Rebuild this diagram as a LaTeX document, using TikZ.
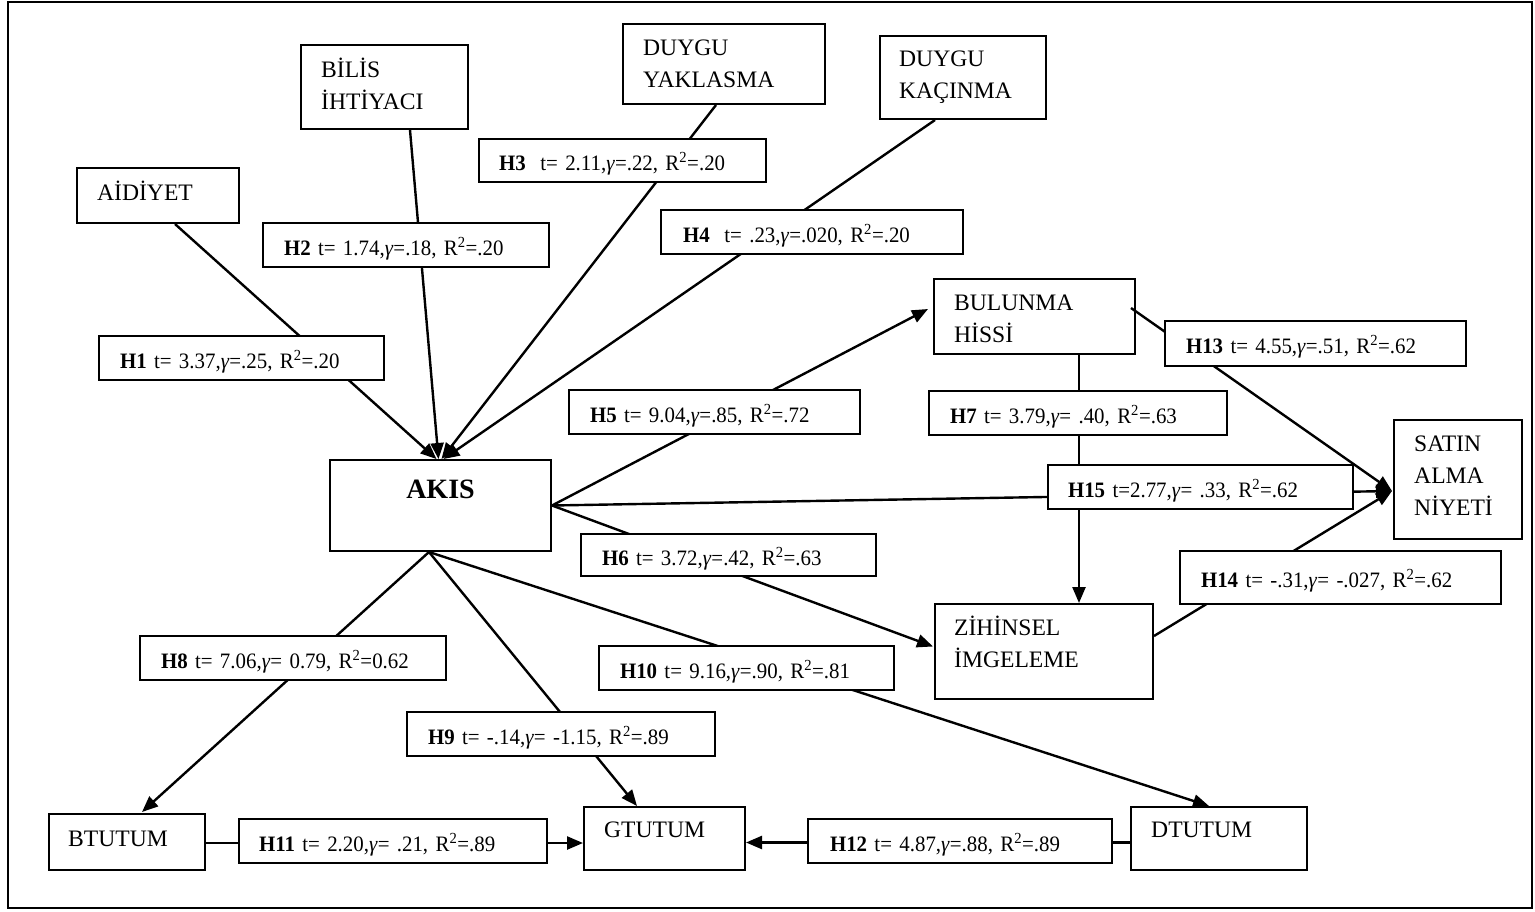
\documentclass[tikz,border=0pt]{standalone}
\usepackage{fontspec}
\setmainfont{Liberation Serif}
\newfontfamily\coeffont{Liberation Serif}[FakeStretch=0.95]
\usetikzlibrary{arrows.meta,calc}
\newcommand{\gam}{\textit{γ}}
\newcommand{\rsq}{R\textsuperscript{2}}
\begin{document}
\begin{tikzpicture}[x=1pt,y=-1pt,
  varbox/.style={draw,line width=2pt,rectangle,inner sep=0pt,anchor=north west},
  vartext/.style={anchor=base west,inner sep=0pt,align=left,font=\fontsize{23.6}{31.7}\selectfont},
  coef/.style={draw,fill=white,line width=2pt,anchor=north west,inner xsep=21pt,inner ysep=0pt,
    align=left,text height=25pt,text depth=5pt,font=\coeffont\fontsize{22}{24}\selectfont},
  link/.style={line width=2.4pt},
  arr/.style={link,-{Triangle[length=16pt,width=13pt]}}]
\useasboundingbox (0,0) rectangle (1535,911);
\draw[line width=1.8pt] (8,2) rectangle (1532,908);

% construct boxes
\node[varbox,minimum width=162pt,minimum height=55pt] (aid) at (76,167) {};
\node[varbox,minimum width=167pt,minimum height=84pt] (bil) at (300,44) {};
\node[varbox,minimum width=202pt,minimum height=80pt] (dya) at (622,23) {};
\node[varbox,minimum width=166pt,minimum height=83pt] (dka) at (879,35) {};
\node[varbox,minimum width=221pt,minimum height=91pt] (akis) at (329,459) {};
\node[varbox,minimum width=201pt,minimum height=75pt] (bul) at (933,278) {};
\node[varbox,minimum width=128pt,minimum height=119pt] (sat) at (1393,419) {};
\node[varbox,minimum width=218pt,minimum height=95pt] (zih) at (934,603) {};
\node[varbox,minimum width=156pt,minimum height=56pt] (bt) at (48,813) {};
\node[varbox,minimum width=161pt,minimum height=63pt] (gt) at (583,806) {};
\node[varbox,minimum width=176pt,minimum height=63pt] (dt) at (1130,806) {};

% construct names (base anchor sits on the last line)
\node[vartext] (aid-t) at ($(aid.north west)+(21,33)$) {AİDİYET};
\node[vartext] (bil-t) at ($(bil.north west)+(21,65)$) {BİLİS\\İHTİYACI};
\node[vartext] (dya-t) at ($(dya.north west)+(21,64)$) {DUYGU\\YAKLASMA};
\node[vartext] (dka-t) at ($(dka.north west)+(20,63)$) {DUYGU\\KAÇINMA};
\node[anchor=base,inner sep=0pt,font=\fontsize{28}{32}\selectfont\bfseries] (akis-t) at ($(akis.north)+(0,39)$) {AKIS};
\node[vartext] (bul-t) at ($(bul.north west)+(21,64)$) {BULUNMA\\HİSSİ};
\node[vartext] (sat-t) at ($(sat.north west)+(21,96)$) {SATIN\\ALMA\\NİYETİ};
\node[vartext] (zih-t) at ($(zih.north west)+(20,64)$) {ZİHİNSEL\\İMGELEME};
\node[vartext] (bt-t) at ($(bt.north west)+(20,33)$) {BTUTUM};
\node[vartext] (gt-t) at ($(gt.north west)+(21,31)$) {GTUTUM};
\node[vartext] (dt-t) at ($(dt.north west)+(21,31)$) {DTUTUM};

% paths into AKIS
\draw[arr] ([shift={(17,0)}]aid.south) -- ([shift={(-4,0)}]akis.north);
\draw[arr] ([shift={(25.5,0)}]bil.south) -- ([shift={(-2,0)}]akis.north);
\draw[arr] ([shift={(-8,0)}]dya.south) -- ([shift={(1,0)}]akis.north);
\draw[arr] ([shift={(-28,0)}]dka.south) -- ([shift={(3,0)}]akis.north);

% paths out of AKIS
\draw[arr] (akis.east) -- ([shift={(-5,-7.5)}]bul.west);
\draw[arr] (akis.east) -- ([shift={(-1,-5)}]zih.west);
\draw[arr] (akis.east) -- ([shift={(-1,11.5)}]sat.west);
\coordinate (akb) at ([shift={(-11.5,0)}]akis.south);
\draw[arr] (akb) -- ([shift={(15,-1)}]bt.north);
\draw[arr] (akb) -- ([shift={(-27.5,0)}]gt.north);
\draw[arr] (akb) -- ([shift={(-10,0)}]dt.north);

% remaining paths
\coordinate (h7s) at ([shift={(44.5,0)}]bul.south);
\draw[arr] (h7s) -- (h7s |- zih.north);
\draw[arr] ([shift={(-5,-8.5)}]bul.east) -- ([shift={(-1,11.5)}]sat.west);
\draw[arr] ([shift={(0,-15.5)}]zih.east) -- ([shift={(-1,11.5)}]sat.west);
\coordinate (h11s) at ([shift={(0,1)}]bt.east);
\draw[arr] (h11s) -- (h11s -| gt.west);
\coordinate (h12s) at ([shift={(0,4)}]dt.west);
\draw[arr] (h12s) -- (h12s -| gt.east);

% path coefficients
\node[coef,text width=243pt,minimum height=44pt] (h1) at (98,335) {\mbox{\textbf{H1} t= 3.37,\gam=.25, \rsq=.20}};
\node[coef,text width=244pt,minimum height=44pt] (h2) at (262,222) {\mbox{\textbf{H2} t= 1.74,\gam=.18, \rsq=.20}};
\node[coef,text width=247pt,minimum height=43pt,inner xsep=20pt] (h3) at (478,138) {\mbox{\textbf{H3}\ \ t= 2.11,\gam=.22, \rsq=.20}};
\node[coef,text width=258pt,minimum height=44pt,inner xsep=22pt] (h4) at (660,209) {\mbox{\textbf{H4}\ \ t= .23,\gam=.020, \rsq=.20}};
\node[coef,text width=249pt,minimum height=44pt] (h5) at (568,389) {\mbox{\textbf{H5} t= 9.04,\gam=.85, \rsq=.72}};
\node[coef,text width=253pt,minimum height=42pt] (h6) at (580,533) {\mbox{\textbf{H6} t= 3.72,\gam=.42, \rsq=.63}};
\node[coef,text width=256pt,minimum height=44pt] (h7) at (928,390) {\mbox{\textbf{H7} t= 3.79,\gam= .40, \rsq=.63}};
\node[coef,text width=264pt,minimum height=44pt] (h8) at (139,635) {\mbox{\textbf{H8} t= 7.06,\gam= 0.79, \rsq=0.62}};
\node[coef,text width=266pt,minimum height=44pt] (h9) at (406,711) {\mbox{\textbf{H9} t= -.14,\gam= -1.15, \rsq=.89}};
\node[coef,text width=253pt,minimum height=44pt] (h10) at (598,645) {\mbox{\textbf{H10} t= 9.16,\gam=.90, \rsq=.81}};
\node[coef,text width=268pt,minimum height=44pt,inner xsep=20pt] (h11) at (238,818) {\mbox{\textbf{H11} t= 2.20,\gam= .21, \rsq=.89}};
\node[coef,text width=260pt,minimum height=44pt,inner xsep=22pt] (h12) at (807,818) {\mbox{\textbf{H12} t= 4.87,\gam=.88, \rsq=.89}};
\node[coef,text width=259pt,minimum height=45pt] (h13) at (1164,320) {\mbox{\textbf{H13} t= 4.55,\gam=.51, \rsq=.62}};
\node[coef,text width=279pt,minimum height=53pt] (h14) at (1179,550) {\mbox{\textbf{H14} t= -.31,\gam= -.027, \rsq=.62}};
\node[coef,text width=265pt,minimum height=44pt,inner xsep=20pt] (h15) at (1047,464) {\mbox{\textbf{H15} t=2.77,\gam= .33, \rsq=.62}};
\end{tikzpicture}
\end{document}
